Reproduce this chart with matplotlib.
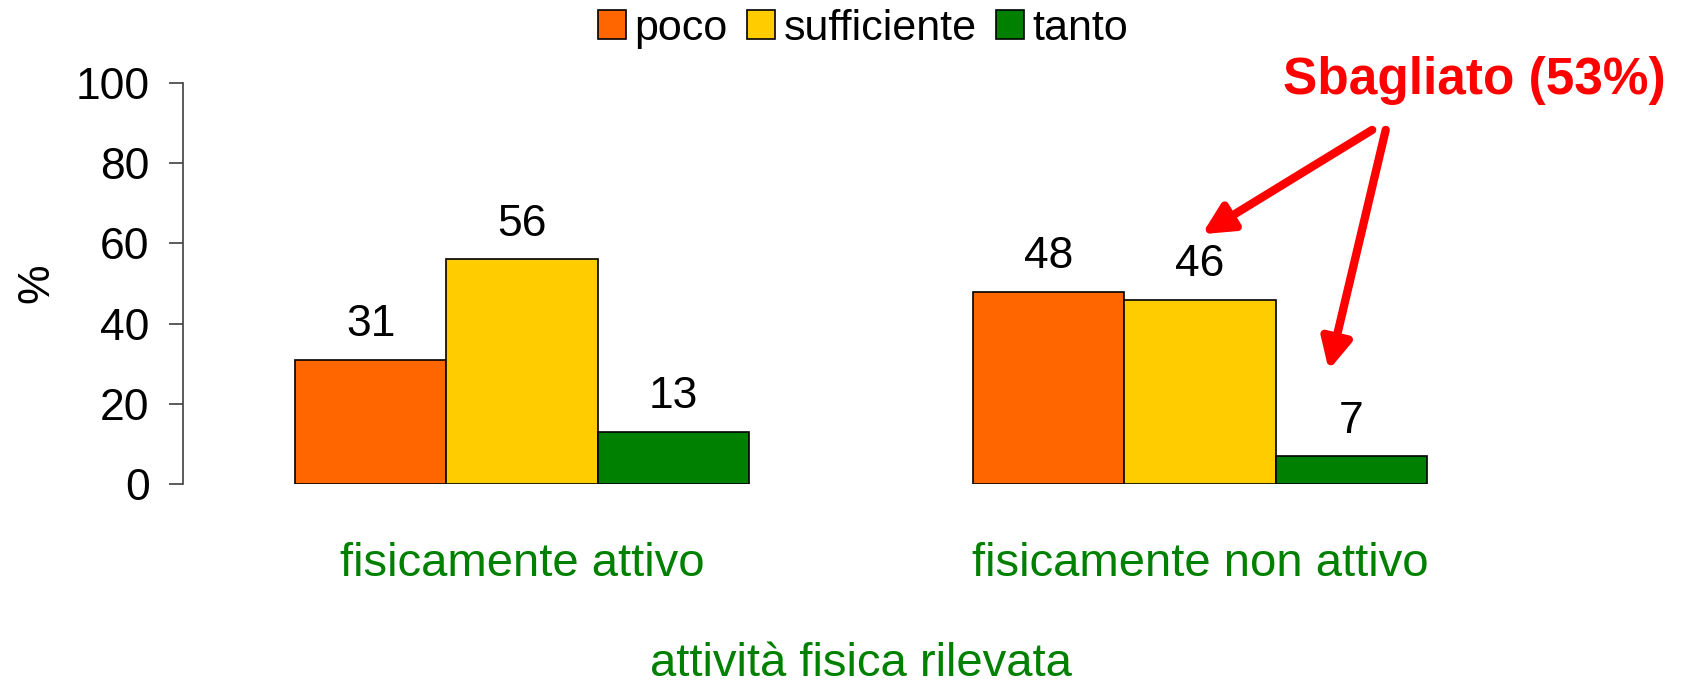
import matplotlib.pyplot as plt
import numpy as np

plt.rcParams['font.family'] = ['Liberation Sans', 'DejaVu Sans']

groups = ['fisicamente attivo', 'fisicamente non attivo']
series = ['poco', 'sufficiente', 'tanto']
poco = [31, 48]
sufficiente = [56, 46]
tanto = [13, 7]
colors = ['#FF6600', '#FFCC00', '#008000']
annot_text = 'Sbagliato (53%)'

GREEN = '#008000'
FS = 32

fig = plt.figure(figsize=(17.02, 6.86), dpi=100)
ax = fig.add_axes([0.1075, 0.2945, 0.7967, 0.5845])

x = np.arange(len(groups)) + 0.5
width = 0.223
for i, (name, vals, c) in enumerate(zip(series, [poco, sufficiente, tanto], colors)):
    xs = x + (i - 1) * width
    ax.bar(xs, vals, width, color=c, edgecolor='black', linewidth=1.2, label=name)
    for xi, v in zip(xs, vals):
        ax.text(xi, v + 8.7, str(v), ha='center', va='center', fontsize=FS)

ax.set_xlim(0, 2)
ax.set_ylim(0, 100)
ax.set_yticks(range(0, 101, 20))
ax.tick_params(axis='y', labelsize=FS, length=10, width=1.2, color='#404040', pad=14)
ax.set_xticks(x)
ax.set_xticklabels(groups, color=GREEN, fontsize=34)
ax.tick_params(axis='x', length=0, pad=42)
for s in ['top', 'right', 'bottom']:
    ax.spines[s].set_visible(False)
ax.spines['left'].set_color('#404040')
ax.spines['left'].set_linewidth(1.2)
ax.set_ylabel('%', fontsize=FS, va='center', ha='center')
ax.yaxis.set_label_coords(-0.108, 0.5)
ax.set_xlabel('attività fisica rilevata', fontsize=34, color=GREEN, labelpad=40)

fig.legend(loc='center', bbox_to_anchor=(0.507, 0.958), ncol=3, frameon=False,
           fontsize=31, handlelength=0.65, handleheight=0.65, handletextpad=0.2,
           columnspacing=0.45, borderpad=0)

# annotation
ax.annotate(annot_text, xy=(1.905, 100.7), ha='center', va='center',
            fontsize=37, fontweight='bold', color='red',
            annotation_clip=False)
arrow = dict(arrowstyle='-|>', lw=6, color='red', mutation_scale=45, shrinkA=0, shrinkB=0)
ax.annotate('', xy=(1.503, 62.3), xytext=(1.754, 88.3), arrowprops=arrow, annotation_clip=False)
ax.annotate('', xy=(1.690, 28.4), xytext=(1.774, 88.3), arrowprops=arrow, annotation_clip=False)

fig.savefig('out.png', dpi=100)
